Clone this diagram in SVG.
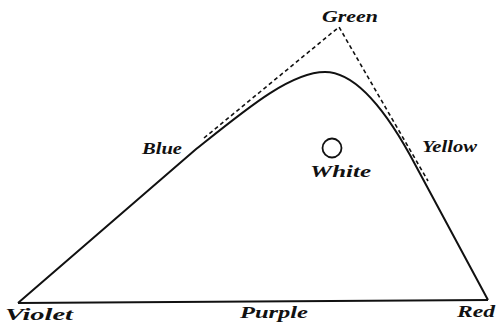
<svg xmlns="http://www.w3.org/2000/svg" width="497" height="323" viewBox="0 0 497 323">
<style>
.lbl{font-family:"Liberation Serif","Times New Roman",serif;font-weight:bold;font-style:italic;font-size:17px;fill:#111}
.solid{fill:none;stroke:#111;stroke-width:2;stroke-linejoin:round}
.dash{fill:none;stroke:#111;stroke-width:1.6;stroke-dasharray:4 3}
</style>
<rect width="497" height="323" fill="#fff"/>
<g id="connectors">
<path class="dash" d="M204,138 L339,27 L428,181"/>
<path class="solid" d="M18,303 L195,150 C245,110 290,72 325,72 C355,72 385,110 410,155 L488,300"/>
<path class="solid" d="M18,303 L488,300"/>
</g>
<g id="green"><text class="lbl" x="322" y="22" textLength="56" lengthAdjust="spacingAndGlyphs">Green</text></g>
<g id="blue"><text class="lbl" x="142" y="154" textLength="40" lengthAdjust="spacingAndGlyphs">Blue</text></g>
<g id="yellow"><text class="lbl" x="422" y="152" textLength="55" lengthAdjust="spacingAndGlyphs">Yellow</text></g>
<g id="white"><circle cx="332" cy="148" r="9.5" fill="none" stroke="#111" stroke-width="1.8"/><text class="lbl" x="310" y="177" textLength="61" lengthAdjust="spacingAndGlyphs">White</text></g>
<g id="violet"><text class="lbl" x="5" y="320" textLength="68" lengthAdjust="spacingAndGlyphs">Violet</text></g>
<g id="purple"><text class="lbl" x="240" y="318" textLength="68" lengthAdjust="spacingAndGlyphs">Purple</text></g>
<g id="red"><text class="lbl" x="457" y="317" textLength="38" lengthAdjust="spacingAndGlyphs">Red</text></g>
</svg>
